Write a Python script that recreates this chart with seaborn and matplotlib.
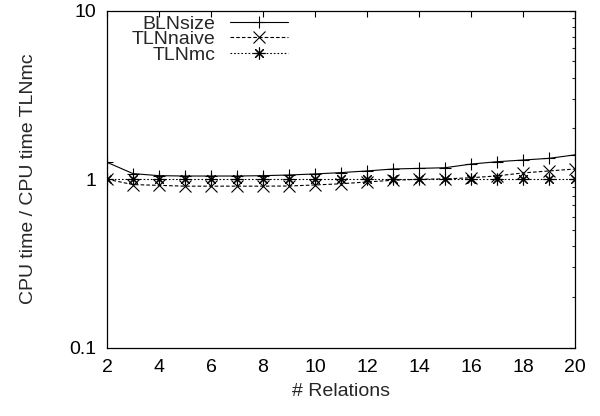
import matplotlib
matplotlib.use("Agg")
import matplotlib.pyplot as plt
from matplotlib.ticker import LogLocator, FixedLocator, NullFormatter
import seaborn as sns
import pandas as pd

relations = list(range(2, 21))
bln_size = [1.26, 1.08, 1.05, 1.045, 1.045, 1.045, 1.05, 1.06, 1.075, 1.095,
            1.12, 1.15, 1.16, 1.17, 1.23, 1.27, 1.30, 1.33, 1.395]
tln_naive = [1.0, 0.93, 0.92, 0.91, 0.91, 0.91, 0.91, 0.912, 0.925, 0.94,
             0.964, 0.986, 1.0, 1.005, 1.02, 1.047, 1.09, 1.12, 1.15]
tln_mc = [1.0] * 19
series_names = ["BLNsize", "TLNnaive", "TLNmc"]
x_ticks = [2, 4, 6, 8, 10, 12, 14, 16, 18, 20]
y_ticks = [0.1, 1, 10]
y_tick_labels = ["0.1", "1", "10"]

sns.set_style("white")
plt.rcParams["font.family"] = ["Liberation Sans", "DejaVu Sans"]
plt.rcParams["lines.scale_dashes"] = False

df = pd.DataFrame({
    "x": relations * 3,
    "y": bln_size + tln_naive + tln_mc,
    "series": [series_names[0]] * 19 + [series_names[1]] * 19 + [series_names[2]] * 19,
})

FS = 14
fig = plt.figure(figsize=(6.0, 4.16), dpi=100)
ax = fig.add_axes([107 / 600, 68 / 416, 468 / 600, 337.5 / 416])

styles = {
    "BLNsize": dict(marker="+", ms=8, ls="-"),
    "TLNnaive": dict(marker="x", ms=8.5, ls=(0, (2.6, 1.5))),
    "TLNmc": dict(marker=(8, 2, 0), ms=8.5, ls=(0, (1.2, 1.4))),
}
for name in series_names:
    st = styles[name]
    sns.lineplot(data=df[df["series"] == name], x="x", y="y", ax=ax,
                 color="black", linewidth=0.8, linestyle=st["ls"],
                 marker=st["marker"], markersize=st["ms"], markeredgewidth=0.8,
                 markeredgecolor="black", label=name, errorbar=None)

ax.set_yscale("log")
ax.set_xlim(2, 20)
ax.set_ylim(0.1, 10)
ax.xaxis.set_major_locator(FixedLocator(x_ticks))
ax.yaxis.set_major_locator(FixedLocator(y_ticks))
ax.set_yticklabels(y_tick_labels)
ax.yaxis.set_minor_locator(LogLocator(base=10, subs=range(2, 10)))
ax.yaxis.set_minor_formatter(NullFormatter())
ax.tick_params(axis="both", which="major", direction="in", length=4.5, width=0.8,
               top=True, right=True, labelsize=FS, colors="black")
ax.tick_params(axis="x", which="major", pad=8)
ax.tick_params(axis="y", which="major", pad=8)
ax.tick_params(axis="both", which="minor", direction="in", length=2.5, width=0.8,
               top=True, right=True)
for sp in ax.spines.values():
    sp.set_color("black")
    sp.set_linewidth(0.9)

ax.set_xlabel("# Relations", fontsize=FS, labelpad=5)
ax.set_ylabel("CPU time / CPU time TLNmc", fontsize=FS, labelpad=23)

leg = ax.legend(loc="upper right", bbox_to_anchor=(288 / 600, 1 - 15 / 416),
                bbox_transform=fig.transFigure, frameon=False, markerfirst=False,
                fontsize=FS, handlelength=3.0, handletextpad=0.72,
                labelspacing=-0.1, borderpad=0, borderaxespad=0)

fig.savefig("out.png", dpi=100)
